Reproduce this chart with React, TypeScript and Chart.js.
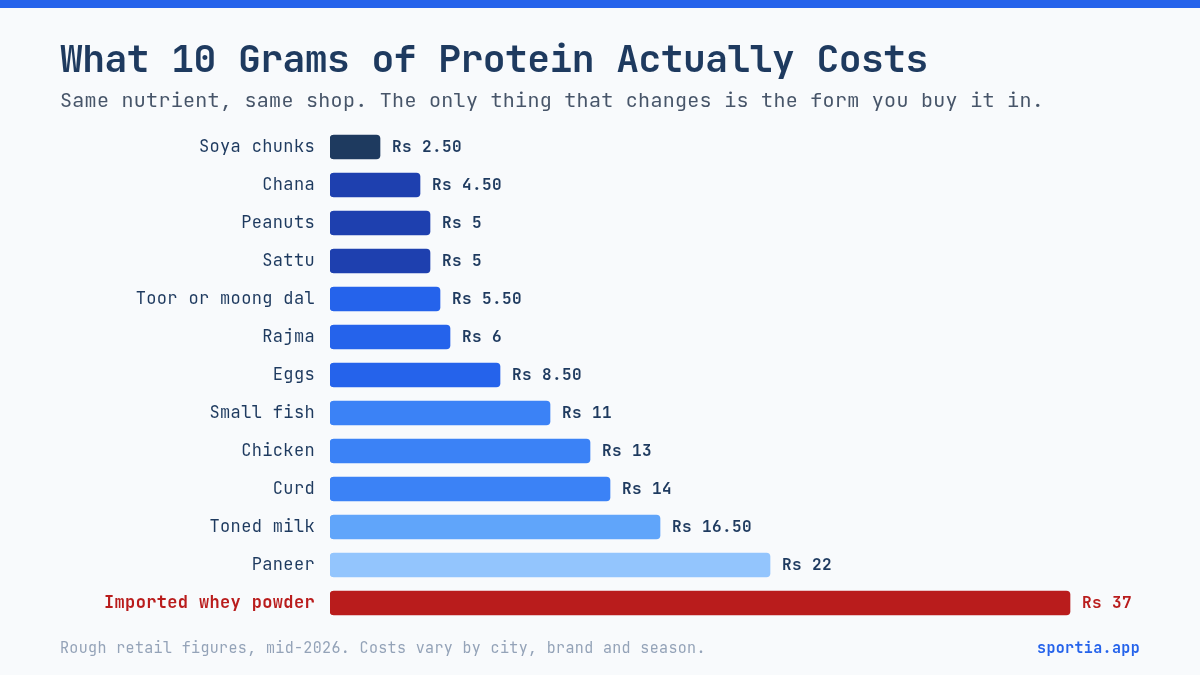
import { useEffect, useRef } from "react";
import Chart from "chart.js/auto";

const MONO = '"JetBrains Mono", "DejaVu Sans Mono", monospace';

const foods = [
  "Soya chunks",
  "Chana",
  "Peanuts",
  "Sattu",
  "Toor or moong dal",
  "Rajma",
  "Eggs",
  "Small fish",
  "Chicken",
  "Curd",
  "Toned milk",
  "Paneer",
  "Imported whey powder",
];
const costs = [2.5, 4.5, 5, 5, 5.5, 6, 8.5, 11, 13, 14, 16.5, 22, 37];
const costLabels = [
  "Rs 2.50",
  "Rs 4.50",
  "Rs 5",
  "Rs 5",
  "Rs 5.50",
  "Rs 6",
  "Rs 8.50",
  "Rs 11",
  "Rs 13",
  "Rs 14",
  "Rs 16.50",
  "Rs 22",
  "Rs 37",
];
const barColors = [
  "#1e3a5f",
  "#1e40af",
  "#1e40af",
  "#1e40af",
  "#2563eb",
  "#2563eb",
  "#2563eb",
  "#3b82f6",
  "#3b82f6",
  "#3b82f6",
  "#60a5fa",
  "#93c5fd",
  "#b91c1c",
];

const NAVY = "#1e3a5f";
const RED = "#b91c1c";
const lastIndex = foods.length - 1;

// the tick labels pick this spacing up from the context
const tickSpacing = {
  id: "tickSpacing",
  beforeDraw(chart: any) {
    chart.ctx.letterSpacing = "0.35px";
  },
};

// writes "Rs x" just past the end of each bar
const valueLabels = {
  id: "valueLabels",
  afterDatasetsDraw(chart: any) {
    const ctx = chart.ctx;
    ctx.save();
    ctx.font = `bold 16px ${MONO}`;
    ctx.letterSpacing = "0.4px";
    ctx.textAlign = "left";
    ctx.textBaseline = "middle";
    chart.getDatasetMeta(0).data.forEach((bar: any, i: number) => {
      ctx.fillStyle = i === lastIndex ? RED : NAVY;
      ctx.fillText(costLabels[i], bar.x + 12, bar.y + 1);
    });
    ctx.restore();
  },
};

export default function App() {
  const ref = useRef<HTMLCanvasElement | null>(null);

  useEffect(() => {
    if (!ref.current) return;
    const chart = new Chart(ref.current, {
      type: "bar",
      data: {
        labels: foods,
        datasets: [
          {
            data: costs,
            backgroundColor: barColors,
            barThickness: 24,
            borderRadius: 4,
            borderSkipped: false,
          },
        ],
      },
      options: {
        indexAxis: "y",
        responsive: false,
        animation: false,
        layout: { padding: { top: 128, bottom: 53, left: 0, right: 0 } },
        plugins: {
          legend: { display: false },
          tooltip: { enabled: false },
        },
        scales: {
          x: { display: false, min: 0, max: 43.5 },
          y: {
            afterFit: (scale: any) => {
              scale.width = 330;
            },
            grid: { display: false, drawTicks: false },
            border: { display: false },
            ticks: {
              padding: 15,
              autoSkip: false,
              color: (c: any) => (c.index === lastIndex ? RED : NAVY),
              font: (c: any) => ({
                family: MONO,
                size: 17,
                weight: c.index === lastIndex ? "bold" : "normal",
              }),
            },
          },
        },
      },
      plugins: [tickSpacing, valueLabels],
    });
    return () => chart.destroy();
  }, []);

  return (
    <div
      style={{
        position: "fixed",
        left: 0,
        top: 0,
        width: 1200,
        height: 675,
        background: "#f8fafc",
        fontFamily: MONO,
        overflow: "hidden",
      }}
    >
      <canvas
        ref={ref}
        width={1200}
        height={675}
        style={{ position: "absolute", left: 0, top: 0 }}
      ></canvas>
      <div style={{ position: "absolute", left: 0, top: 0, width: 1200, height: 8, background: "#2563eb" }}></div>
      <div style={{ position: "absolute", left: 60, top: 36, fontSize: 38, fontWeight: 700, letterSpacing: -0.55, lineHeight: "44px", color: NAVY, whiteSpace: "nowrap" }}>
        What 10 Grams of Protein Actually Costs
      </div>
      <div style={{ position: "absolute", left: 60, top: 87, fontSize: 20, letterSpacing: 0.3, lineHeight: "26px", color: "#475569", whiteSpace: "nowrap" }}>
        Same nutrient, same shop. The only thing that changes is the form you buy it in.
      </div>
      <div style={{ position: "absolute", left: 60, top: 638, fontSize: 15, letterSpacing: 0.36, lineHeight: "20px", color: "#94a3b8", whiteSpace: "nowrap" }}>
        Rough retail figures, mid-2026. Costs vary by city, brand and season.
      </div>
      <div style={{ position: "absolute", right: 60, top: 638, fontSize: 15, fontWeight: 700, letterSpacing: 0.36, lineHeight: "20px", color: "#2563eb", whiteSpace: "nowrap" }}>
        sportia.app
      </div>
    </div>
  );
}
